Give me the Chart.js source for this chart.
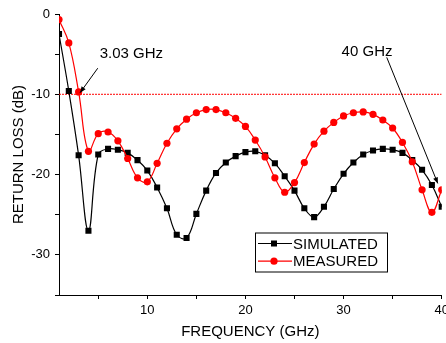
<!DOCTYPE html>
<html><head><meta charset="utf-8">
<script src="https://cdn.jsdelivr.net/npm/chart.js@4/dist/chart.umd.min.js"></script>
<style>html,body{margin:0;padding:0;background:#fff}#wrap{width:446px;height:343px}</style>
</head><body><div id="wrap"><canvas id="c" width="446" height="343"></canvas></div>
<script>
const frequencies = [1,2,3,4,5,6,7,8,9,10,11,12,13,14,15,16,17,18,19,20,21,22,23,24,25,26,27,28,29,30,31,32,33,34,35,36,37,38,39,40];
const simulated = [-2.5,-9.6,-17.6,-27.0,-17.5,-16.8,-16.9,-17.3,-18.2,-19.5,-21.6,-24.2,-27.5,-27.9,-24.9,-22.0,-19.8,-18.5,-17.7,-17.2,-17.1,-17.6,-18.6,-20.2,-22.0,-24.2,-25.3,-24.0,-21.8,-19.9,-18.5,-17.5,-17.0,-16.8,-16.9,-17.3,-18.2,-19.4,-21.3,-24.0];
const measured = [-0.7,-3.6,-9.7,-17.1,-14.9,-14.7,-15.8,-18.0,-20.4,-20.9,-18.6,-16.1,-14.3,-13.1,-12.3,-11.9,-11.9,-12.3,-13.0,-14.0,-15.7,-17.8,-20.4,-22.2,-21.0,-18.5,-16.2,-14.6,-13.5,-12.7,-12.3,-12.2,-12.5,-13.2,-14.2,-16.0,-18.4,-21.9,-24.7,-21.9];
const thresholdDb = -10;
const xRange = [1, 40];
const yRange = [-35, 0];
const xTickValues = [5,10,15,20,25,30,35,40];
const xTickLabels = ['', '10', '', '20', '', '30', '', '40'];
const yTickValues = [-35,-30,-25,-20,-15,-10,-5,0];
const yTickLabels = ['', '-30', '', '-20', '', '-10', '', '0'];
const seriesNames = ['SIMULATED', 'MEASURED'];
const annotationTexts = ['3.03 GHz', '40 GHz'];
const annotationTextAt = [[5.15, -5.0], [29.8, -4.75]];
const annotationArrowFrom = [[4.95, -6.75], [34.4, -5.4]];
const annotationArrowTo = [[3.15, -9.8], [39.6, -21.1]];

const FONT = "'Liberation Sans', Arial, sans-serif";

const overlayPlugin = {
  id: 'overlay',
  afterDatasetsDraw(chart) {
    const ctx = chart.ctx, xs = chart.scales.x, ys = chart.scales.y, ca = chart.chartArea;
    ctx.save();
    ctx.fillStyle = '#000';
    ctx.strokeStyle = '#000';
    ctx.lineWidth = 1;
    ctx.font = '15px ' + FONT;
    ctx.textBaseline = 'middle';
    ctx.textAlign = 'left';
    for (let i = 0; i < annotationTexts.length; i++) {
      ctx.fillText(annotationTexts[i], xs.getPixelForValue(annotationTextAt[i][0]), ys.getPixelForValue(annotationTextAt[i][1]));
      const x1 = xs.getPixelForValue(annotationArrowFrom[i][0]), y1 = ys.getPixelForValue(annotationArrowFrom[i][1]);
      const x2 = xs.getPixelForValue(annotationArrowTo[i][0]), y2 = ys.getPixelForValue(annotationArrowTo[i][1]);
      ctx.beginPath(); ctx.moveTo(x1, y1); ctx.lineTo(x2, y2); ctx.stroke();
      const a = Math.atan2(y2 - y1, x2 - x1), L = 6, W = 2.5;
      ctx.beginPath();
      ctx.moveTo(x2, y2);
      ctx.lineTo(x2 - L * Math.cos(a) + W * Math.sin(a), y2 - L * Math.sin(a) - W * Math.cos(a));
      ctx.lineTo(x2 - L * Math.cos(a) - W * Math.sin(a), y2 - L * Math.sin(a) + W * Math.cos(a));
      ctx.closePath(); ctx.fill();
    }
    const bx = ca.left + 196, by = ca.top + 218.5, bw = 132, bh = 39;
    ctx.fillStyle = '#fff';
    ctx.fillRect(bx, by, bw, bh);
    ctx.strokeStyle = '#000';
    ctx.lineWidth = 1;
    ctx.strokeRect(bx + 0.5, by + 0.5, bw, bh);
    const rows = [chart.data.datasets[1], chart.data.datasets[0]];
    rows.forEach((ds, i) => {
      const cy = by + 11 + i * 17.7;
      ctx.strokeStyle = ds.borderColor;
      ctx.lineWidth = ds.borderWidth;
      ctx.beginPath(); ctx.moveTo(bx + 3, cy); ctx.lineTo(bx + 37, cy); ctx.stroke();
      ctx.fillStyle = ds.pointBackgroundColor;
      if (ds.pointStyle === 'rect') ctx.fillRect(bx + 16, cy - 3, 6, 6);
      else { ctx.beginPath(); ctx.arc(bx + 19, cy, 3.6, 0, Math.PI * 2); ctx.fill(); }
      ctx.fillStyle = '#000';
      ctx.font = '15px ' + FONT;
      ctx.textAlign = 'left';
      ctx.textBaseline = 'middle';
      ctx.fillText(ds.label, bx + 38, cy + 1);
    });
    ctx.restore();
  }
};

new Chart(document.getElementById('c'), {
  type: 'line',
  data: {
    datasets: [
      {
        label: seriesNames[1],
        data: frequencies.map((f, i) => ({x: f, y: measured[i]})),
        borderColor: '#ff0000', backgroundColor: '#ff0000', pointBackgroundColor: '#ff0000',
        borderWidth: 1.2, pointStyle: 'circle', pointRadius: 3.6, pointBorderWidth: 0,
        tension: 0.4, order: 0
      },
      {
        label: seriesNames[0],
        data: frequencies.map((f, i) => ({x: f, y: simulated[i]})),
        borderColor: '#000000', backgroundColor: '#000000', pointBackgroundColor: '#000000',
        borderWidth: 1.2, pointStyle: 'rect', pointRadius: 4.3, pointBorderWidth: 0,
        tension: 0.4, order: 1
      },
      {
        label: 'threshold',
        data: xRange.map(f => ({x: f, y: thresholdDb})),
        borderColor: '#ff0000', borderWidth: 1, borderDash: [2, 1],
        pointRadius: 0, tension: 0, order: 2
      }
    ]
  },
  options: {
    responsive: false, animation: false, devicePixelRatio: 1,
    layout: {padding: {top: 14, right: 3, left: 0, bottom: 0}},
    plugins: {legend: {display: false}, tooltip: {enabled: false}},
    scales: {
      x: {
        type: 'linear', min: xRange[0], max: xRange[1],
        afterBuildTicks: s => { s.ticks = xTickValues.map(v => ({value: v})); },
        afterFit: s => { s.height = 48; s.paddingRight = 0; s.paddingLeft = 0; },
        ticks: {
          callback: (v) => xTickLabels[xTickValues.indexOf(v)] ?? '',
          font: {family: FONT, size: 13}, color: '#000', padding: 4, maxRotation: 0, autoSkip: false
        },
        grid: {drawOnChartArea: false, drawTicks: true, tickLength: 4, color: '#000'},
        border: {display: true, color: '#000', width: 1},
        title: {display: true, text: 'FREQUENCY (GHz)', font: {family: FONT, size: 15}, color: '#000', padding: {top: 0, bottom: 2}}
      },
      y: {
        type: 'linear', min: yRange[0], max: yRange[1],
        afterBuildTicks: s => { s.ticks = yTickValues.map(v => ({value: v})); },
        afterFit: s => { s.width = 59; s.paddingTop = 0; s.paddingBottom = 0; },
        ticks: {
          callback: (v) => yTickLabels[yTickValues.indexOf(v)] ?? '',
          font: {family: FONT, size: 13}, color: '#000', padding: 5, autoSkip: false
        },
        grid: {drawOnChartArea: false, drawTicks: true, tickLength: 4, color: '#000'},
        border: {display: true, color: '#000', width: 1},
        title: {display: true, text: 'RETURN LOSS (dB)', font: {family: FONT, size: 15}, color: '#000', padding: {top: 10, bottom: 0}}
      }
    }
  },
  plugins: [overlayPlugin]
});
</script>
</body></html>
